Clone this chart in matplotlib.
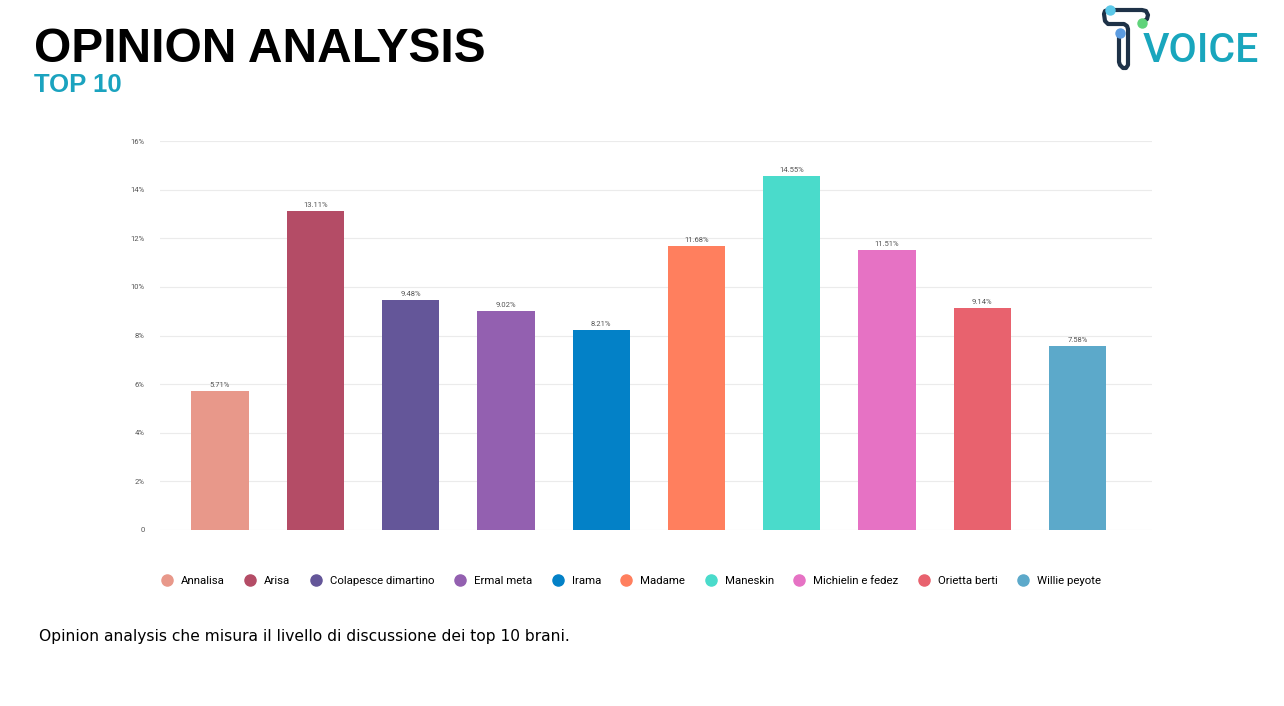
import matplotlib
matplotlib.use("Agg")
import matplotlib.pyplot as plt
from matplotlib.lines import Line2D
from matplotlib.ticker import FixedLocator, FuncFormatter

categories = ["Annalisa", "Arisa", "Colapesce dimartino", "Ermal meta", "Irama",
              "Madame", "Maneskin", "Michielin e fedez", "Orietta berti", "Willie peyote"]
values = [5.71, 13.11, 9.48, 9.02, 8.21, 11.68, 14.55, 11.51, 9.14, 7.58]
colors = ["#E8988A", "#B44C66", "#645699", "#9360B0", "#0381C7",
          "#FF7F5E", "#4ADBCB", "#E672C4", "#E8626E", "#5CA9CA"]
yticks = [0, 2, 4, 6, 8, 10, 12, 14, 16]

W, H = 1284, 706
fig = plt.figure(figsize=(W / 100, H / 100), dpi=100)
fig.patch.set_facecolor("white")

ax = fig.add_axes([160 / W, 1 - 530 / H, (1152 - 160) / W, (530 - 141) / H])
x = list(range(len(categories)))
ax.bar(x, values, width=0.6, color=colors, zorder=3)
for xi, v in zip(x, values):
    ax.text(xi, v + 0.12, f"{v:.2f}%", ha="center", va="bottom", fontsize=5.5,
            color="#555555", family="Roboto")
ax.set_xlim(-0.63, 9.78)
ax.set_ylim(0, 16)
ax.yaxis.set_major_locator(FixedLocator(yticks))
ax.yaxis.set_major_formatter(FuncFormatter(lambda v, p: "0" if v == 0 else f"{int(v)}%"))
ax.tick_params(axis="y", length=0, labelsize=5.5, labelcolor="#555555", pad=11)
for lab in ax.get_yticklabels():
    lab.set_family("Roboto")
ax.set_xticks([])
ax.grid(axis="y", color="#EBEBEB", linewidth=0.8, zorder=0)
for s in ax.spines.values():
    s.set_visible(False)

handles = [Line2D([], [], marker="o", linestyle="none", markersize=8,
                  markerfacecolor=c, markeredgecolor=c) for c in colors]
fig.legend(handles, categories, loc="center left", bbox_to_anchor=(162 / W, 1 - 581 / H),
           ncol=10, frameon=False, handlelength=0.8, handletextpad=0.83,
           columnspacing=1.84, borderpad=0, borderaxespad=0,
           prop={"family": "Roboto", "size": 8.2})

fig.text(34 / W, 1 - 62 / H, "OPINION ANALYSIS", fontsize=34.5, fontweight="bold",
         family="Liberation Sans", color="black", va="baseline")
fig.text(34 / W, 1 - 92 / H, "TOP 10", fontsize=18.5, fontweight="bold",
         family="Liberation Sans", color="#1BA3BF", va="baseline")
fig.text(39 / W, 1 - 641 / H,
         "Opinion analysis che misura il livello di discussione dei top 10 brani.",
         fontsize=11.2, family="DejaVu Sans", color="black", va="baseline")

# logo
lx = fig.add_axes([0, 0, 1, 1], facecolor="none")
lx.set_xlim(0, W)
lx.set_ylim(H, 0)
lx.axis("off")
navy = "#1E3248"
px = [1143, 1147, 1148, 1146, 1142, 1108, 1105, 1104, 1105, 1108, 1124, 1127, 1128,
      1128, 1126, 1123, 1120, 1119, 1119]
py = [22, 19, 15, 11, 10, 10, 11, 14, 21, 24, 24, 26, 29, 65, 68, 68, 65, 62, 34]
lx.plot(px, py, color=navy, lw=3.0, solid_capstyle="round", solid_joinstyle="round")
lx.scatter([1110], [10], s=42, color="#5BC8E8", zorder=5)
lx.scatter([1142], [23], s=42, color="#5FD37A", zorder=5)
lx.scatter([1120], [33], s=42, color="#5B9BE0", zorder=5)
lx.text(1143, 62, "VOICE", fontsize=29.5, family="Roboto", fontweight="medium",
        color="#19A6BD", va="baseline", ha="left")

fig.savefig("out.png", dpi=100, facecolor="white")
